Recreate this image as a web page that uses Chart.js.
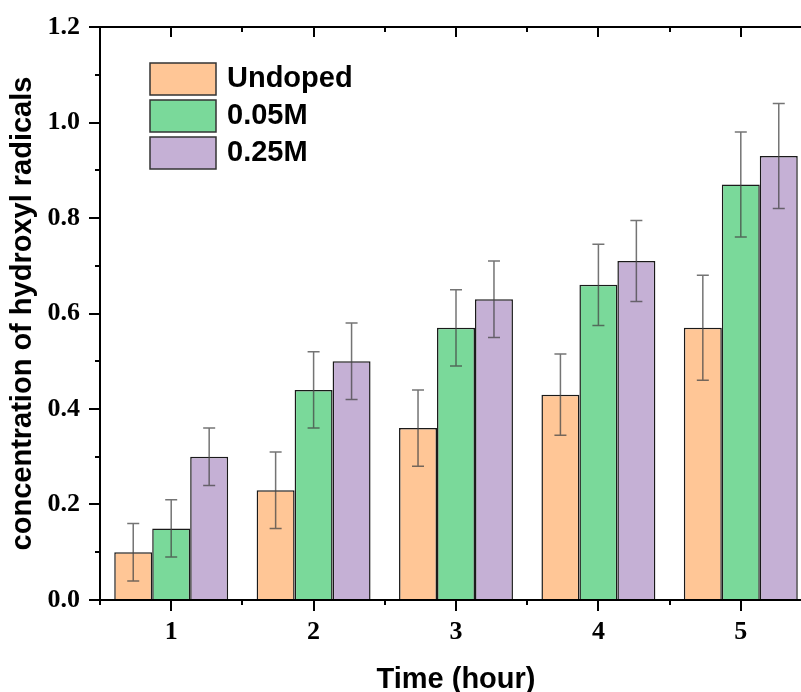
<!DOCTYPE html>
<html>
<head>
<meta charset="utf-8">
<script src="https://cdn.jsdelivr.net/npm/chart.js@4.4.1/dist/chart.umd.min.js"></script>
<style>
  html, body { margin: 0; padding: 0; background: #fff; overflow: hidden; }
  /* the frame's right edge runs just past the visible page */
  #wrap { width: 801px; height: 692px; overflow: hidden; }
  #c { display: block; }
</style>
</head>
<body>
<div id="wrap"><canvas id="c" width="815" height="700"></canvas></div>
<script>
// Hydroxyl radical concentration over time for three doping levels
const hours = ['1', '2', '3', '4', '5'];
const seriesNames = ['Undoped', '0.05M', '0.25M'];
const undoped = [0.10, 0.23, 0.36, 0.43, 0.57];
const doped005 = [0.15, 0.44, 0.57, 0.66, 0.87];
const doped025 = [0.30, 0.50, 0.63, 0.71, 0.93];
const errUndoped = [0.06, 0.08, 0.08, 0.085, 0.11];
const err005 = [0.06, 0.08, 0.08, 0.085, 0.11];
const err025 = [0.06, 0.08, 0.08, 0.085, 0.11];
const yTicks = [0, 0.2, 0.4, 0.6, 0.8, 1.0, 1.2];

const fills = ['#FFC696', '#7AD99A', '#C5B0D5'];
const values = [undoped, doped005, doped025];
const errors = [errUndoped, err005, err025];

const SANS = '"Liberation Sans", Arial, sans-serif';
const SERIF = '"Liberation Serif", "Times New Roman", serif';

// keep the plot box exactly where the layout padding puts it
function noScalePadding(s) {
  s.paddingTop = 0; s.paddingBottom = 0; s.paddingLeft = 0; s.paddingRight = 0;
}

// Error bars with caps, placed from the bar elements and the y scale
const errorBars = {
  id: 'errorBars',
  afterDatasetsDraw(chart) {
    const ctx = chart.ctx;
    const y = chart.scales.y;
    ctx.save();
    ctx.strokeStyle = 'rgba(70,70,70,0.75)';
    ctx.lineWidth = 1.5;
    chart.data.datasets.forEach((ds, di) => {
      const meta = chart.getDatasetMeta(di);
      meta.data.forEach((bar, i) => {
        const v = ds.data[i], e = ds.errors[i];
        const yt = y.getPixelForValue(v + e);
        const yb = y.getPixelForValue(v - e);
        const x = bar.x, cap = 6;
        ctx.beginPath();
        ctx.moveTo(x, yt); ctx.lineTo(x, yb);
        ctx.moveTo(x - cap, yt); ctx.lineTo(x + cap, yt);
        ctx.moveTo(x - cap, yb); ctx.lineTo(x + cap, yb);
        ctx.stroke();
      });
    });
    ctx.restore();
  }
};

// Box frame with major/minor ticks, and the legend block
const frame = {
  id: 'frame',
  afterDraw(chart) {
    const ctx = chart.ctx;
    const a = chart.chartArea;
    const x = chart.scales.x, y = chart.scales.y;
    ctx.save();
    ctx.strokeStyle = '#000';
    ctx.lineWidth = 2;
    ctx.beginPath();
    ctx.rect(a.left, a.top, a.right - a.left, a.bottom - a.top);
    ctx.stroke();

    ctx.beginPath();
    // y ticks: majors outward on left, inward on right; minors between
    for (let v = 0; v <= 1.2001; v += 0.1) {
      const p = Math.round(y.getPixelForValue(v));
      const major = Math.abs(v / 0.2 - Math.round(v / 0.2)) < 1e-6;
      const len = major ? 11 : 5;
      ctx.moveTo(a.left - len, p); ctx.lineTo(a.left, p);
      ctx.moveTo(a.right, p); ctx.lineTo(a.right - len, p);
    }
    // x ticks: majors at each hour, minors at category boundaries
    const n = hours.length;
    for (let i = 0; i < n; i++) {
      const p = Math.round(x.getPixelForValue(i));
      ctx.moveTo(p, a.bottom); ctx.lineTo(p, a.bottom + 11);
      ctx.moveTo(p, a.top); ctx.lineTo(p, a.top + 10);
    }
    for (let i = 0; i <= n; i++) {
      const p = Math.round(x.getPixelForValue(i - 0.5));
      ctx.moveTo(p, a.bottom); ctx.lineTo(p, a.bottom + 5);
      ctx.moveTo(p, a.top); ctx.lineTo(p, a.top + 5);
    }
    ctx.stroke();

    // legend
    const bx = 150, bw = 66, bh = 32, top0 = 63, step = 37;
    ctx.font = 'bold 29px ' + SANS;
    ctx.textBaseline = 'alphabetic';
    ctx.textAlign = 'left';
    chart.data.datasets.forEach((ds, i) => {
      const ty = top0 + i * step;
      ctx.fillStyle = ds.backgroundColor;
      ctx.fillRect(bx, ty, bw, bh);
      ctx.lineWidth = 1.5;
      ctx.strokeStyle = '#333';
      ctx.strokeRect(bx, ty, bw, bh);
      ctx.fillStyle = '#000';
      ctx.fillText(ds.label, 227, ty + 24);
    });
    ctx.restore();
  }
};

new Chart(document.getElementById('c'), {
  type: 'bar',
  data: {
    labels: hours,
    datasets: seriesNames.map((name, i) => ({
      label: name,
      data: values[i],
      errors: errors[i],
      backgroundColor: fills[i],
      borderColor: '#1a1a1a',
      borderWidth: 1.5,
      categoryPercentage: 0.8,
      barPercentage: 1.0
    }))
  },
  options: {
    responsive: false,
    devicePixelRatio: 1,
    animation: false,
    layout: { padding: { top: 27, right: 3, left: 0, bottom: 0 } },
    plugins: { legend: { display: false }, tooltip: { enabled: false } },
    scales: {
      x: {
        type: 'category',
        offset: true,
        grid: { display: false, drawTicks: false },
        border: { display: false },
        ticks: {
          color: '#000',
          padding: 17,
          font: { family: SERIF, size: 26, weight: 'bold' }
        },
        title: {
          display: true,
          text: 'Time (hour)',
          color: '#000',
          font: { family: SANS, size: 29, weight: 'bold' },
          padding: { top: 0, bottom: 3 }
        },
        afterFit(s) { s.height = 100; noScalePadding(s); }
      },
      y: {
        min: 0,
        max: 1.2,
        afterBuildTicks(s) { s.ticks = yTicks.map(v => ({ value: v })); },
        grid: { display: false, drawTicks: false },
        border: { display: false },
        ticks: {
          color: '#000',
          padding: 20,
          font: { family: SERIF, size: 26, weight: 'bold' },
          callback: v => Number(v).toFixed(1)
        },
        title: {
          display: true,
          text: 'concentration of hydroxyl radicals',
          color: '#000',
          font: { family: SANS, size: 29, weight: 'bold' },
          padding: { top: 6, bottom: 0 }
        },
        afterFit(s) { s.width = 100; noScalePadding(s); }
      }
    }
  },
  plugins: [errorBars, frame]
});
</script>
</body>
</html>
